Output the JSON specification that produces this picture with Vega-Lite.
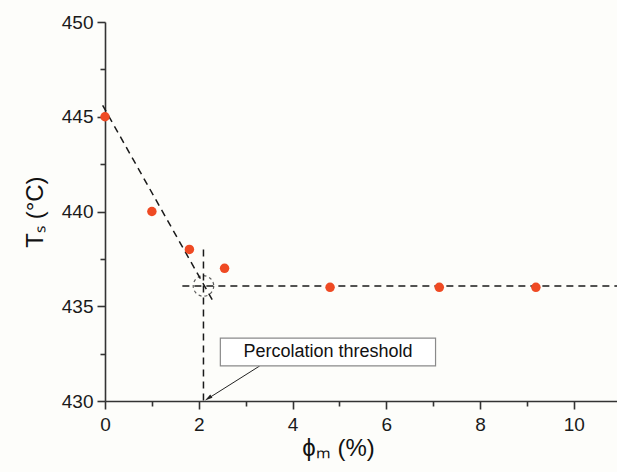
{
  "$schema": "https://vega.github.io/schema/vega-lite/v6.json",
  "width": 512,
  "height": 379,
  "autosize": {"type": "none"},
  "padding": {"left": 105, "top": 22, "right": 0, "bottom": 71},
  "background": "#fdfdfa",
  "config": {
    "view": {"stroke": null},
    "font": "Liberation Sans",
    "axis": {"grid": false, "labelFlush": false, "domainColor": "#333", "domainWidth": 1.6, "tickColor": "#333", "tickWidth": 1.6, "labelColor": "#1a1a1a", "labelFontSize": 19, "titleColor": "#111", "titleFontSize": 24, "titleFontWeight": "normal", "labelFont": "Liberation Sans", "titleFont": "Liberation Sans"}
  },
  "datasets": {
    "pts": [
      {"phi": 0, "T": 445},
      {"phi": 1.0, "T": 440},
      {"phi": 1.8, "T": 438},
      {"phi": 2.55, "T": 437},
      {"phi": 4.8, "T": 436},
      {"phi": 7.13, "T": 436},
      {"phi": 9.19, "T": 436}
    ],
    "lines": [
      {"id": "slope", "phi": -0.05, "T": 445.6},
      {"id": "slope", "phi": 2.32, "T": 435.2},
      {"id": "h", "phi": 1.65, "T": 436.07},
      {"id": "h", "phi": 10.92, "T": 436.07},
      {"id": "v", "phi": 2.1, "T": 438},
      {"id": "v", "phi": 2.1, "T": 430}
    ],
    "circ": [{"phi": 2.1, "T": 436.07}],
    "box": [{"x1": 2.46, "x2": 7.05, "y1": 431.85, "y2": 433.32, "label": "Percolation threshold", "xc": 4.755, "yc": 432.585}],
    "arrow": [
      {"phi": 3.3, "T": 431.85},
      {"phi": 2.23, "T": 430.18}
    ],
    "head": [{"phi": 2.2, "T": 430.14}]
  },
  "layer": [
    {
      "data": {"name": "lines"},
      "mark": {"type": "line", "color": "#1a1a1a", "strokeWidth": 1.5, "strokeDash": [7, 5], "clip": false},
      "encoding": {
        "x": {"field": "phi", "type": "quantitative", "scale": {"domain": [0, 10.92], "nice": false, "zero": false},
          "axis": {"values": [0,1,2,3,4,5,6,7,8,9,10], "labelExpr": "datum.value % 2 ? '' : datum.label", "tickSize": {"condition": {"test": "datum.value % 2 !== 0", "value": 5}, "value": 8}, "labelPadding": 6, "title": "ϕₘ (%)", "titlePadding": 2, "titleX": 233}},
        "y": {"field": "T", "type": "quantitative", "scale": {"domain": [430, 450], "nice": false, "zero": false},
          "axis": {"values": [430,432.5,435,437.5,440,442.5,445,447.5,450], "labelExpr": "datum.value % 5 ? '' : datum.label", "tickSize": {"condition": {"test": "datum.value % 5 !== 0", "value": 5}, "value": 8}, "labelPadding": 4, "title": "Tₛ (°C)", "titlePadding": 14}},
        "detail": {"field": "id"}
      }
    },
    {
      "data": {"name": "circ"},
      "mark": {"type": "point", "shape": "circle", "size": 420, "filled": false, "stroke": "#1a1a1a", "strokeWidth": 1.2, "strokeDash": [3, 3]},
      "encoding": {
        "x": {"field": "phi", "type": "quantitative"},
        "y": {"field": "T", "type": "quantitative"}
      }
    },
    {
      "data": {"name": "pts"},
      "mark": {"type": "circle", "size": 90, "color": "#ef4a23", "opacity": 1},
      "encoding": {
        "x": {"field": "phi", "type": "quantitative"},
        "y": {"field": "T", "type": "quantitative"}
      }
    },
    {
      "data": {"name": "arrow"},
      "mark": {"type": "line", "color": "#222", "strokeWidth": 1},
      "encoding": {
        "x": {"field": "phi", "type": "quantitative"},
        "y": {"field": "T", "type": "quantitative"}
      }
    },
    {
      "data": {"name": "head"},
      "mark": {"type": "point", "shape": "M-0.5,1L0,-1L0.5,1Z", "size": 60, "filled": true, "color": "#222", "angle": 236, "opacity": 1},
      "encoding": {
        "x": {"field": "phi", "type": "quantitative"},
        "y": {"field": "T", "type": "quantitative"}
      }
    },
    {
      "data": {"name": "box"},
      "mark": {"type": "rect", "fill": "#ffffff", "stroke": "#8a8a8a", "strokeWidth": 1.2},
      "encoding": {
        "x": {"field": "x1", "type": "quantitative"},
        "x2": {"field": "x2"},
        "y": {"field": "y1", "type": "quantitative"},
        "y2": {"field": "y2"}
      }
    },
    {
      "data": {"name": "box"},
      "mark": {"type": "text", "fontSize": 18, "color": "#111", "font": "Liberation Sans"},
      "encoding": {
        "x": {"field": "xc", "type": "quantitative"},
        "y": {"field": "yc", "type": "quantitative"},
        "text": {"field": "label"}
      }
    }
  ]
}
